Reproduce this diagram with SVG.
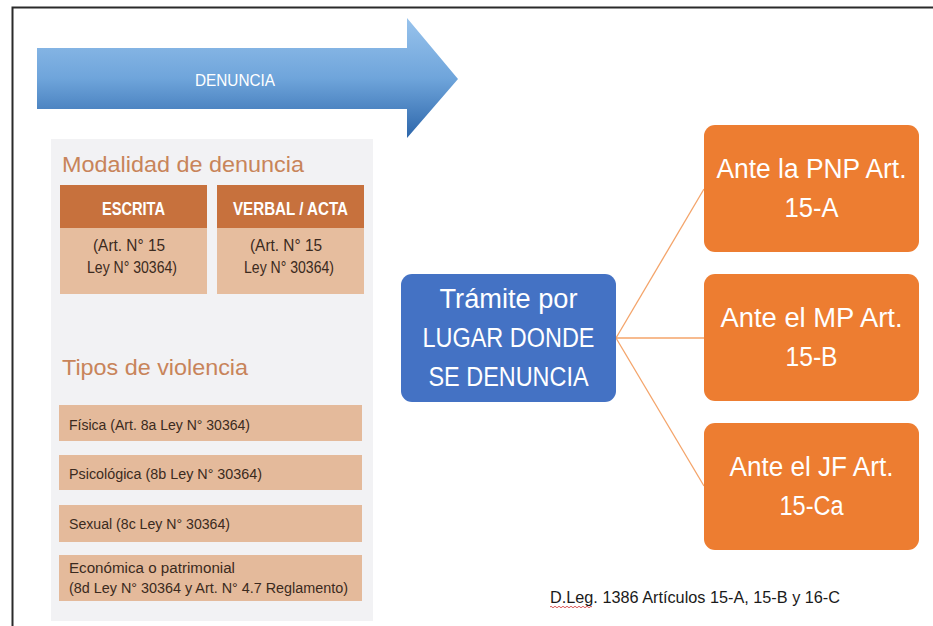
<svg xmlns="http://www.w3.org/2000/svg" width="933" height="626" viewBox="0 0 933 626">
<defs>
<linearGradient id="arrowGrad" gradientUnits="userSpaceOnUse" x1="0" y1="18" x2="0" y2="138">
<stop offset="0" stop-color="#98c3ec"/>
<stop offset="0.5" stop-color="#6fa5db"/>
<stop offset="1" stop-color="#2d66aa"/>
</linearGradient>
<style>
.sans{font-family:"Liberation Sans",Arial,sans-serif}
.title{font-size:22px;fill:#c8845a}
.hdr{fill:#c7713d}
.body{fill:#e6bd9e}
.hdrtxt{font-size:18px;font-weight:bold;fill:#ffffff;text-anchor:middle}
.bodytxt{font-size:16px;fill:#3b2a20;text-anchor:middle}
.bar{fill:#e4ba9b}
.bartxt{font-size:15.5px;fill:#3b2a20}
.orange{fill:#ed7d31}
.blue{fill:#4472c4}
.boxtxt{font-size:27px;fill:#ffffff;text-anchor:middle}
.conn{stroke:#f4a46a;stroke-width:1.3;fill:none}
</style>
</defs>
<rect x="0" y="0" width="933" height="626" fill="#ffffff"/>
<path d="M12.5 626 V7.5 H933" fill="none" stroke="#2a2a2a" stroke-width="2"/>

<g id="arrow">
<polygon points="37,48 407,48 407,18 458,79 407,138 407,109 37,109" fill="url(#arrowGrad)"/>
<text x="235" y="86" class="sans" font-size="17" fill="#ffffff" text-anchor="middle" textLength="80" lengthAdjust="spacingAndGlyphs">DENUNCIA</text>
</g>

<g id="panel">
<rect x="51" y="139" width="322" height="482" fill="#f2f2f4"/>
</g>

<g id="modalidad">
<text x="62" y="172" class="sans title" textLength="242" lengthAdjust="spacingAndGlyphs">Modalidad de denuncia</text>
</g>

<g id="escrita">
<rect x="60" y="185" width="147" height="43" class="hdr"/>
<rect x="60" y="228" width="147" height="66" class="body"/>
<text x="133.5" y="215" class="sans hdrtxt" textLength="63" lengthAdjust="spacingAndGlyphs">ESCRITA</text>
<text x="129" y="251" class="sans bodytxt" textLength="72" lengthAdjust="spacingAndGlyphs">(Art. N° 15</text>
<text x="132" y="273" class="sans bodytxt" textLength="90" lengthAdjust="spacingAndGlyphs">Ley N° 30364)</text>
</g>

<g id="verbal">
<rect x="217" y="185" width="147" height="43" class="hdr"/>
<rect x="217" y="228" width="147" height="66" class="body"/>
<text x="290.5" y="215" class="sans hdrtxt" textLength="115" lengthAdjust="spacingAndGlyphs">VERBAL / ACTA</text>
<text x="286" y="251" class="sans bodytxt" textLength="72" lengthAdjust="spacingAndGlyphs">(Art. N° 15</text>
<text x="289" y="273" class="sans bodytxt" textLength="90" lengthAdjust="spacingAndGlyphs">Ley N° 30364)</text>
</g>

<g id="tipos">
<text x="62" y="375" class="sans title" textLength="186" lengthAdjust="spacingAndGlyphs">Tipos de violencia</text>
</g>

<g id="fisica">
<rect x="59" y="405" width="303" height="36" class="bar"/>
<text x="69" y="430" class="sans bartxt" textLength="181" lengthAdjust="spacingAndGlyphs">Física (Art. 8a Ley N° 30364)</text>
</g>
<g id="psicologica">
<rect x="59" y="455" width="303" height="35" class="bar"/>
<text x="69" y="479" class="sans bartxt" textLength="193" lengthAdjust="spacingAndGlyphs">Psicológica (8b Ley N° 30364)</text>
</g>
<g id="sexual">
<rect x="59" y="505" width="303" height="37" class="bar"/>
<text x="69" y="529" class="sans bartxt" textLength="161" lengthAdjust="spacingAndGlyphs">Sexual (8c Ley N° 30364)</text>
</g>
<g id="economica">
<rect x="59" y="555" width="303" height="46" class="bar"/>
<text x="69" y="573" class="sans bartxt" textLength="166" lengthAdjust="spacingAndGlyphs">Económica o patrimonial</text>
<text x="69" y="593" class="sans bartxt" textLength="279" lengthAdjust="spacingAndGlyphs">(8d Ley N° 30364 y Art. N° 4.7 Reglamento)</text>
</g>

<g id="connectors">
<line x1="616" y1="338" x2="704" y2="189" class="conn"/>
<line x1="616" y1="338" x2="704" y2="338" class="conn"/>
<line x1="616" y1="338" x2="704" y2="486" class="conn"/>
</g>

<g id="tramite">
<rect x="401" y="274" width="215" height="128" rx="11" class="blue"/>
<text x="508.5" y="308" class="sans boxtxt" textLength="138" lengthAdjust="spacingAndGlyphs">Trámite por</text>
<text x="508.5" y="347" class="sans boxtxt" textLength="172" lengthAdjust="spacingAndGlyphs">LUGAR DONDE</text>
<text x="508.5" y="386" class="sans boxtxt" textLength="160" lengthAdjust="spacingAndGlyphs">SE DENUNCIA</text>
</g>

<g id="pnp">
<rect x="704" y="125" width="215" height="127" rx="11" class="orange"/>
<text x="811.5" y="178" class="sans boxtxt" textLength="190" lengthAdjust="spacingAndGlyphs">Ante la PNP Art.</text>
<text x="811.5" y="217" class="sans boxtxt" textLength="54" lengthAdjust="spacingAndGlyphs">15-A</text>
</g>
<g id="mp">
<rect x="704" y="274" width="215" height="127" rx="11" class="orange"/>
<text x="811.5" y="327" class="sans boxtxt" textLength="182" lengthAdjust="spacingAndGlyphs">Ante el MP Art.</text>
<text x="811.5" y="366" class="sans boxtxt" textLength="52" lengthAdjust="spacingAndGlyphs">15-B</text>
</g>
<g id="jf">
<rect x="704" y="423" width="215" height="127" rx="11" class="orange"/>
<text x="811.5" y="476" class="sans boxtxt" textLength="164" lengthAdjust="spacingAndGlyphs">Ante el JF Art.</text>
<text x="811.5" y="515" class="sans boxtxt" textLength="64" lengthAdjust="spacingAndGlyphs">15-Ca</text>
</g>

<g id="footer">
<text x="550" y="603" class="sans" font-size="16" fill="#1a1a1a" textLength="290" lengthAdjust="spacingAndGlyphs">D.Leg. 1386 Artículos 15-A, 15-B y 16-C</text>
<path d="M550 607 q1 -1.5 2 0 t2 0 t2 0 t2 0 t2 0 t2 0 t2 0 t2 0 t2 0 t2 0 t2 0 t2 0 t2 0 t2 0 t2 0 t2 0 t2 0 t2 0 t2 0 t2 0 t2 0" fill="none" stroke="#d03030" stroke-width="0.8"/>
</g>
</svg>
